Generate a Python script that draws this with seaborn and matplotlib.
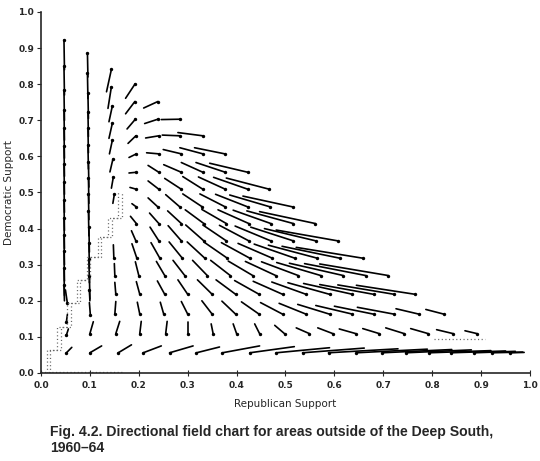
import numpy as np
import pandas as pd
import seaborn as sns
import matplotlib.pyplot as plt

# field rows: height of the dotted end, x of each dotted end, offset to the other end
row_y = [0.109, 0.163, 0.218, 0.270, 0.318, 0.366, 0.414, 0.460, 0.509, 0.556,
         0.607, 0.657, 0.703, 0.752, 0.800]
row_dot_x = [
    [0.100, 0.153, 0.202, 0.255, 0.300, 0.352, 0.400, 0.447, 0.498, 0.549, 0.597, 0.644, 0.692, 0.743, 0.792, 0.843, 0.892],
    [0.151, 0.202, 0.251, 0.300, 0.350, 0.398, 0.446, 0.494, 0.542, 0.590, 0.637, 0.680, 0.722, 0.773, 0.824],
    [0.153, 0.202, 0.253, 0.300, 0.350, 0.398, 0.446, 0.494, 0.542, 0.590, 0.637, 0.680, 0.722, 0.765],
    [0.151, 0.200, 0.253, 0.294, 0.340, 0.387, 0.433, 0.480, 0.526, 0.572, 0.618, 0.664, 0.710],
    [0.149, 0.196, 0.243, 0.289, 0.335, 0.381, 0.427, 0.473, 0.519, 0.565, 0.611, 0.658],
    [0.194, 0.241, 0.287, 0.333, 0.379, 0.425, 0.470, 0.516, 0.562, 0.607],
    [0.195, 0.241, 0.287, 0.333, 0.379, 0.425, 0.470, 0.516, 0.561],
    [0.195, 0.239, 0.284, 0.330, 0.377, 0.423, 0.469, 0.515],
    [0.195, 0.241, 0.287, 0.331, 0.377, 0.423, 0.467],
    [0.195, 0.241, 0.287, 0.331, 0.377, 0.423],
    [0.195, 0.241, 0.287, 0.331, 0.376],
    [0.194, 0.241, 0.285, 0.331],
    [0.193, 0.239, 0.285],
    [0.192, 0.239],
    [0.192],
]
row_dx = [
    [0.007, 0.008, 0.003, 0.003, 0.000, -0.004, -0.007, -0.010, -0.020, -0.027, -0.031, -0.034, -0.034, -0.038, -0.036, -0.034, -0.025],
    [0.002, -0.005, -0.007, -0.013, -0.021, -0.028, -0.036, -0.045, -0.055, -0.065, -0.075, -0.080, -0.075, -0.047, -0.037],
    [-0.002, -0.007, -0.015, -0.020, -0.030, -0.040, -0.050, -0.060, -0.070, -0.085, -0.100, -0.110, -0.115, -0.120],
    [-0.001, -0.007, -0.017, -0.024, -0.030, -0.040, -0.050, -0.062, -0.075, -0.090, -0.110, -0.125, -0.140],
    [-0.001, -0.010, -0.018, -0.027, -0.036, -0.047, -0.058, -0.070, -0.083, -0.100, -0.118, -0.136],
    [-0.009, -0.018, -0.027, -0.037, -0.048, -0.060, -0.073, -0.087, -0.105, -0.126],
    [-0.012, -0.019, -0.028, -0.038, -0.050, -0.063, -0.077, -0.095, -0.114],
    [-0.009, -0.020, -0.029, -0.040, -0.052, -0.066, -0.083, -0.102],
    [-0.013, -0.022, -0.034, -0.041, -0.055, -0.070, -0.088],
    [-0.015, -0.022, -0.036, -0.044, -0.060, -0.078],
    [-0.015, -0.025, -0.037, -0.047, -0.062],
    [-0.016, -0.027, -0.037, -0.051],
    [-0.017, -0.027, -0.039],
    [-0.019, -0.029],
    [-0.019],
]
row_dy = [
    [0.033, 0.034, 0.034, 0.034, 0.032, 0.027, 0.027, 0.027, 0.023, 0.016, 0.016, 0.013, 0.014, 0.016, 0.014, 0.011, 0.008],
    [0.035, 0.033, 0.033, 0.035, 0.037, 0.036, 0.034, 0.032, 0.030, 0.027, 0.024, 0.022, 0.019, 0.015, 0.013],
    [0.033, 0.035, 0.037, 0.040, 0.040, 0.040, 0.038, 0.036, 0.034, 0.032, 0.030, 0.027, 0.026, 0.025],
    [0.033, 0.038, 0.039, 0.042, 0.042, 0.042, 0.040, 0.039, 0.038, 0.036, 0.034, 0.033, 0.032],
    [0.037, 0.040, 0.043, 0.045, 0.045, 0.044, 0.043, 0.041, 0.039, 0.036, 0.033, 0.030],
    [0.028, 0.038, 0.042, 0.044, 0.044, 0.043, 0.041, 0.038, 0.034, 0.030],
    [0.020, 0.029, 0.035, 0.038, 0.039, 0.038, 0.037, 0.035, 0.033],
    [0.009, 0.025, 0.034, 0.036, 0.036, 0.035, 0.033, 0.030],
    [0.005, 0.023, 0.030, 0.035, 0.034, 0.033, 0.031],
    [-0.002, 0.019, 0.021, 0.027, 0.027, 0.025],
    [-0.010, 0.003, 0.012, 0.017, 0.017],
    [-0.021, -0.006, 0.002, 0.009],
    [-0.027, -0.012, -0.001],
    [-0.034, -0.018],
    [-0.039],
]

# bottom row, drifting right along y ~ 0.06
bottom_dot_x = [0.052, 0.100, 0.158, 0.209, 0.263, 0.318, 0.371, 0.427, 0.481, 0.535,
                0.588, 0.645, 0.698, 0.746, 0.794, 0.838, 0.886, 0.923, 0.960]
bottom_dot_y = 0.056
bottom_tail_x = [0.063, 0.124, 0.185, 0.246, 0.311, 0.365, 0.447, 0.518, 0.590, 0.661,
                 0.730, 0.790, 0.840, 0.880, 0.920, 0.950, 0.970, 0.985, 0.988]
bottom_tail_y = [0.071, 0.075, 0.078, 0.075, 0.075, 0.072, 0.075, 0.073, 0.070, 0.069,
                 0.067, 0.066, 0.065, 0.064, 0.062, 0.061, 0.060, 0.058, 0.057]

# left columns (x ~ 0.05, 0.10, 0.15): long near-vertical runs
col05_dot_y = [0.922, 0.849, 0.784, 0.729, 0.678, 0.628, 0.578, 0.528, 0.478, 0.430,
               0.383, 0.337, 0.290, 0.244]
col05_tail_y = [0.840, 0.770, 0.700, 0.645, 0.595, 0.545, 0.495, 0.445, 0.395, 0.345,
                0.300, 0.255, 0.215, 0.200]
col05_low_dot = [(0.054, 0.193), (0.052, 0.142), (0.052, 0.105)]
col05_low_tail = [(0.050, 0.230), (0.054, 0.162), (0.056, 0.122)]

col10_dot_y = [0.886, 0.830, 0.775, 0.724, 0.678, 0.632, 0.585, 0.540, 0.495, 0.450,
               0.405, 0.360, 0.315, 0.270, 0.230]
col10_dot_x = [0.095, 0.095, 0.096, 0.096, 0.096, 0.096, 0.097, 0.097, 0.097, 0.097,
               0.098, 0.098, 0.098, 0.099, 0.099]
col10_tail_y = [0.820, 0.760, 0.705, 0.655, 0.610, 0.565, 0.515, 0.470, 0.425, 0.380,
                0.335, 0.290, 0.250, 0.205, 0.200]
col10_low_dot = [(0.101, 0.160)]
col10_low_tail = [(0.099, 0.195)]

col15_dot_x = [0.144, 0.144, 0.146, 0.146, 0.146, 0.147, 0.148, 0.150]
col15_dot_y = [0.841, 0.793, 0.740, 0.692, 0.645, 0.592, 0.543, 0.495]
col15_tail_x = [0.134, 0.137, 0.139, 0.139, 0.140, 0.141, 0.144, 0.147]
col15_tail_y = [0.779, 0.733, 0.696, 0.650, 0.607, 0.557, 0.512, 0.470]

# dotted guide lines
stair_x = [0.012, 0.012, 0.033, 0.033, 0.054, 0.054, 0.073, 0.073, 0.094, 0.094,
           0.116, 0.116, 0.138, 0.138, 0.158, 0.158]
stair_y = [0.000, 0.064, 0.064, 0.127, 0.127, 0.194, 0.194, 0.257, 0.257, 0.320,
           0.320, 0.377, 0.377, 0.430, 0.430, 0.500]
base_dots_x = [0.0, 0.17]
flat_dots_x = [0.804, 0.908]
flat_dots_y = 0.093

ticks = [0.0, 0.1, 0.2, 0.3, 0.4, 0.5, 0.6, 0.7, 0.8, 0.9, 1.0]

# ---- assemble segments
seg_rows = []
dot_rows = []


def add(x0, y0, x1, y1):
    k = len(dot_rows)
    seg_rows.append((k, 0, x1, y1))
    seg_rows.append((k, 1, x0, y0))
    dot_rows.append((x0, y0))


for y, xs, dxs, dys in zip(row_y, row_dot_x, row_dx, row_dy):
    for x, dx, dy in zip(xs, dxs, dys):
        add(x, y, x + dx, y + dy)

for x, tx, ty in zip(bottom_dot_x, bottom_tail_x, bottom_tail_y):
    add(x, bottom_dot_y, tx, ty)

for y, ty in zip(col05_dot_y, col05_tail_y):
    add(0.047, y, 0.048, ty)
for (x, y), (tx, ty) in zip(col05_low_dot, col05_low_tail):
    add(x, y, tx, ty)

for x, y, ty in zip(col10_dot_x, col10_dot_y, col10_tail_y):
    add(x, y, x + 0.001, ty)
for (x, y), (tx, ty) in zip(col10_low_dot, col10_low_tail):
    add(x, y, tx, ty)

for x, y, tx, ty in zip(col15_dot_x, col15_dot_y, col15_tail_x, col15_tail_y):
    add(x, y, tx, ty)

segs = pd.DataFrame(seg_rows, columns=["seg", "order", "x", "y"])
dots = pd.DataFrame(dot_rows, columns=["x", "y"])

# ---- draw
sns.set_style("ticks")
plt.rcParams["font.family"] = ["DejaVu Sans"]

fig = plt.figure(figsize=(5.4, 4.61), dpi=100)
ax = fig.add_axes([0.0759, 0.1909, 0.9056, 0.7831])

sns.lineplot(data=segs, x="x", y="y", units="seg", estimator=None, sort=False,
             color="black", lw=1.2, ax=ax, legend=False)
sns.scatterplot(data=dots, x="x", y="y", color="black", s=6, linewidth=0, ax=ax,
                legend=False)

dot_style = dict(color="0.4", lw=0.9, linestyle=(0, (0.9, 2.0)))
ax.plot(stair_x, stair_y, **dot_style)
ax.plot([v + 0.007 for v in stair_x], stair_y, **dot_style)
ax.plot(base_dots_x, [0.004, 0.004], **dot_style)
ax.plot(flat_dots_x, [flat_dots_y, flat_dots_y], **dot_style)

ax.set_xlim(0, 1.0)
ax.set_ylim(0, 1.0)
ax.set_xticks(ticks)
ax.set_yticks(ticks)
ax.set_xticklabels([f"{t:.1f}" for t in ticks], fontsize=6.5, fontweight="bold")
ax.set_yticklabels([f"{t:.1f}" for t in ticks], fontsize=6.5, fontweight="bold")
ax.tick_params(axis="x", direction="inout", length=4, width=0.8, pad=4)
ax.tick_params(axis="y", direction="out", length=3, width=0.8, pad=2)
ax.set_xlabel("Republican Support", fontsize=7.5, labelpad=6)
ax.set_ylabel("Democratic Support", fontsize=7.5)
ax.yaxis.set_label_coords(-0.056, 0.5)
sns.despine(ax=ax)
for sp in ("left", "bottom"):
    ax.spines[sp].set_linewidth(1.2)

cap = dict(fontsize=10.1, fontweight="bold", family="Liberation Sans", va="center",
           ha="left")
fig.text(50 / 540, 1 - 432 / 461,
         "Fig. 4.2. Directional field chart for areas outside of the Deep South,", **cap)
fig.text(50 / 540, 1 - 448 / 461, "1960\u201364", **cap)

fig.savefig("out.png", dpi=100)
